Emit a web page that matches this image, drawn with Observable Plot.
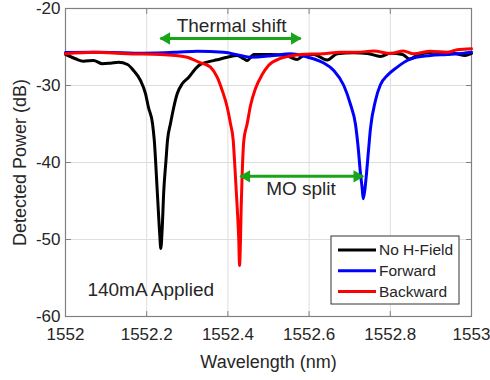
<!DOCTYPE html>
<html>
<head>
<meta charset="utf-8">
<script src="https://cdn.jsdelivr.net/npm/d3@7"></script>
<script src="https://cdn.jsdelivr.net/npm/@observablehq/plot@0.6"></script>
<style>
  html, body { margin: 0; padding: 0; background: #fff; }
  #chart { width: 490px; height: 380px; }
</style>
</head>
<body>
<div id="chart"></div>
<script>
// ---- Data ----
const xTicks = [1552, 1552.2, 1552.4, 1552.6, 1552.8, 1553];
const xTickLabels = ["1552", "1552.2", "1552.4", "1552.6", "1552.8", "1553"];
const yTicks = [-60, -50, -40, -30, -20];
const yTickLabels = ["-60", "-50", "-40", "-30", "-20"];
const xDomain = [1552, 1553];
const yDomain = [-60, -20];

const seriesNames = ["No H-Field", "Forward", "Backward"];
const seriesColors = ["#000000", "#0000ff", "#ff0000"];

const noFieldWl = [1552.000, 1552.0246, 1552.0443, 1552.0690, 1552.0911, 1552.1108, 1552.1305, 1552.1527, 1552.1675, 1552.1847, 1552.1970, 1552.2044, 1552.2143, 1552.2187, 1552.2259, 1552.2323, 1552.2347, 1552.2377, 1552.2421, 1552.2475, 1552.2512, 1552.2586, 1552.2667, 1552.2751, 1552.2874, 1552.3037, 1552.3202, 1552.3283, 1552.3490, 1552.3736, 1552.3983, 1552.4229, 1552.4392, 1552.4475, 1552.4638, 1552.5049, 1552.5419, 1552.5707, 1552.5869, 1552.6116, 1552.6446, 1552.6692, 1552.7094, 1552.7438, 1552.7759, 1552.8005, 1552.8300, 1552.8473, 1552.8695, 1552.9064, 1552.9557, 1552.9852, 1553.000];
const noFieldDb = [-25.97, -26.53, -26.84, -26.75, -27.18, -27.10, -26.97, -27.27, -28.05, -29.35, -31.04, -32.86, -34.94, -37.14, -43.64, -49.48, -51.17, -49.09, -43.64, -39.74, -37.14, -34.94, -32.82, -31.08, -29.78, -28.92, -27.83, -27.40, -26.97, -26.66, -26.32, -26.10, -26.53, -26.75, -25.97, -25.97, -26.10, -26.62, -26.10, -25.97, -26.69, -25.88, -25.75, -25.84, -26.23, -25.81, -25.97, -26.56, -25.97, -25.68, -25.81, -26.10, -25.84];

const forwardWl = [1552.000, 1552.0862, 1552.1921, 1552.2751, 1552.3244, 1552.3899, 1552.4310, 1552.4557, 1552.5131, 1552.5542, 1552.5953, 1552.6158, 1552.6362, 1552.6608, 1552.6855, 1552.7020, 1552.7143, 1552.7204, 1552.7266, 1552.7308, 1552.7333, 1552.7377, 1552.7414, 1552.7463, 1552.7512, 1552.7635, 1552.7759, 1552.7924, 1552.8170, 1552.8416, 1552.8571, 1552.8990, 1552.9401, 1552.9803, 1553.000];
const forwardDb = [-25.71, -25.68, -25.81, -25.68, -25.55, -25.68, -26.10, -26.32, -26.10, -25.88, -26.32, -26.62, -27.08, -28.05, -30.00, -32.47, -35.06, -37.79, -41.47, -43.38, -44.71, -43.38, -41.43, -38.44, -35.58, -31.95, -29.87, -28.70, -27.62, -26.75, -26.43, -26.10, -25.97, -25.81, -25.68];

const backwardWl = [1552.000, 1552.0697, 1552.1520, 1552.2340, 1552.2998, 1552.3283, 1552.3448, 1552.3571, 1552.3736, 1552.3860, 1552.3983, 1552.4064, 1552.4131, 1552.4163, 1552.4229, 1552.4268, 1552.4286, 1552.4310, 1552.4327, 1552.4352, 1552.4392, 1552.4475, 1552.4557, 1552.4680, 1552.4845, 1552.5000, 1552.5296, 1552.5542, 1552.5788, 1552.6355, 1552.6773, 1552.7185, 1552.7586, 1552.8005, 1552.8325, 1552.8571, 1552.8990, 1552.9401, 1552.9648, 1553.000];
const backwardDb = [-25.88, -25.68, -25.88, -25.97, -26.32, -26.97, -27.27, -27.62, -28.92, -30.65, -32.82, -34.97, -37.14, -39.74, -45.81, -50.13, -53.38, -50.13, -45.81, -41.43, -37.14, -34.97, -32.60, -30.39, -28.57, -27.40, -26.49, -26.17, -25.97, -25.88, -25.68, -25.68, -25.52, -25.84, -25.52, -25.88, -25.55, -25.68, -25.36, -25.23];

// annotations (data coordinates)
const thermalArrow = {x1: 1552.234, x2: 1552.579, y: -23.9};
const thermalLabel = {text: "Thermal shift", x: 1552.409, y: -23.1};
const moArrow = {x1: 1552.431, x2: 1552.733, y: -41.8};
const moLabel = {text: "MO split", x: 1552.580, y: -44.2};
const currentLabel = {text: "140mA Applied", x: 1552.054, y: -57.3};
const xLabel = "Wavelength (nm)";
const yLabel = "Detected Power (dB)";

// ---- Build table ----
const wls = [noFieldWl, forwardWl, backwardWl];
const dbs = [noFieldDb, forwardDb, backwardDb];
const rows = [];
seriesNames.forEach((name, s) => {
  wls[s].forEach((w, i) => rows.push({series: name, wl: w, db: dbs[s][i]}));
});

const FONT = "'Liberation Sans', Arial, Helvetica, sans-serif";
const GREEN = "#19a519";
const AXIS = "#808080";
const TEXT = "#262626";
const tickShape = { draw(context, l) { context.moveTo(0, 0); context.lineTo(0, -l); } };
const arrows = [thermalArrow, moArrow];

const chart = Plot.plot({
  width: 490,
  height: 380,
  marginLeft: 65,
  marginRight: 19,
  marginTop: 8,
  marginBottom: 64,
  style: {fontFamily: FONT, fontSize: "17px", background: "#fff", overflow: "visible"},
  x: {domain: xDomain},
  y: {domain: yDomain},
  color: {domain: seriesNames, range: seriesColors},
  marks: [
    Plot.gridX(xTicks, {stroke: "#dedede", strokeOpacity: 1, strokeWidth: 1}),
    Plot.gridY(yTicks, {stroke: "#dedede", strokeOpacity: 1, strokeWidth: 1}),
    Plot.frame({stroke: AXIS, strokeWidth: 1.2}),
    // inward ticks
    Plot.vector(xTicks, {x: d => d, y: () => yDomain[0], length: 5, rotate: 0, anchor: "start", shape: tickShape, stroke: AXIS, strokeWidth: 1}),
    Plot.vector(xTicks, {x: d => d, y: () => yDomain[1], length: 5, rotate: 180, anchor: "start", shape: tickShape, stroke: AXIS, strokeWidth: 1}),
    Plot.vector(yTicks, {x: () => xDomain[0], y: d => d, length: 5, rotate: 90, anchor: "start", shape: tickShape, stroke: AXIS, strokeWidth: 1}),
    Plot.vector(yTicks, {x: () => xDomain[1], y: d => d, length: 5, rotate: -90, anchor: "start", shape: tickShape, stroke: AXIS, strokeWidth: 1}),
    Plot.axisX(xTicks, {tickSize: 0, tickPadding: 11, label: null, fontSize: 17, fill: TEXT,
      tickFormat: d => xTickLabels[xTicks.indexOf(d)]}),
    Plot.axisY(yTicks, {tickSize: 0, tickPadding: 5, label: null, fontSize: 17, fill: TEXT,
      tickFormat: d => yTickLabels[yTicks.indexOf(d)]}),
    // curves
    Plot.line(rows, {x: "wl", y: "db", z: "series", stroke: "series", strokeWidth: 3, curve: "monotone-x"}),
    // arrows
    Plot.link(arrows, {x1: "x1", x2: "x2", y1: "y", y2: "y", stroke: GREEN, strokeWidth: 3}),
    Plot.dot(arrows, {x: "x1", y: "y", symbol: "triangle", r: 4.6, rotate: -90, fill: GREEN, stroke: "none", dx: 6}),
    Plot.dot(arrows, {x: "x2", y: "y", symbol: "triangle", r: 4.6, rotate: 90, fill: GREEN, stroke: "none", dx: -6}),
    // annotation text
    Plot.text([thermalLabel, moLabel], {x: "x", y: "y", text: "text", fontSize: 19, fill: TEXT, lineAnchor: "bottom", textAnchor: "middle"}),
    Plot.text([currentLabel], {x: "x", y: "y", text: "text", fontSize: 19, fill: TEXT, lineAnchor: "bottom", textAnchor: "start"}),
    // axis titles
    Plot.text([xLabel], {frameAnchor: "bottom", text: d => d, dy: 51, fontSize: 18, fill: TEXT, lineAnchor: "bottom", textAnchor: "middle"}),
    Plot.text([yLabel], {frameAnchor: "left", text: d => d, dx: -45, rotate: -90, fontSize: 18, fill: TEXT, lineAnchor: "middle", textAnchor: "middle"})
  ]
});

document.getElementById("chart").appendChild(chart);

// ---- Legend inside the plot (lower right) ----
const svg = d3.select(chart);
const lg = svg.append("g").attr("transform", "translate(331,236)");
lg.append("rect").attr("width", 128).attr("height", 68).attr("fill", "#fff").attr("stroke", "#333").attr("stroke-width", 1);
seriesNames.forEach((name, i) => {
  const yy = 14 + i * 20.8;
  lg.append("line").attr("x1", 7).attr("x2", 45).attr("y1", yy).attr("y2", yy)
    .attr("stroke", seriesColors[i]).attr("stroke-width", 3);
  lg.append("text").attr("x", 48).attr("y", yy).attr("dy", "0.35em")
    .attr("text-anchor", "start")
    .attr("font-family", FONT).attr("font-size", 15.5).attr("fill", TEXT).text(name);
});
</script>
</body>
</html>
